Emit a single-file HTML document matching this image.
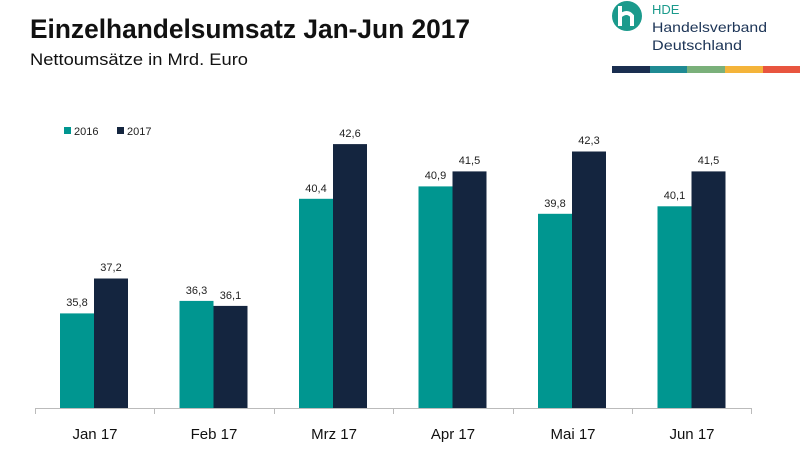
<!DOCTYPE html>
<html><head><meta charset="utf-8"><style>html,body{margin:0;padding:0;background:#fff}svg{display:block}</style></head>
<body>
<svg width="800" height="450" viewBox="0 0 800 450" xmlns="http://www.w3.org/2000/svg" font-family="Liberation Sans, sans-serif">
<rect width="800" height="450" fill="#fff"/>
<text x="30" y="38" font-size="27" font-weight="bold" fill="#111" textLength="440" lengthAdjust="spacingAndGlyphs">Einzelhandelsumsatz Jan-Jun 2017</text>
<text x="30" y="65" font-size="17" fill="#111" textLength="218" lengthAdjust="spacingAndGlyphs">Nettoumsätze in Mrd. Euro</text>
<circle cx="627" cy="16" r="15" fill="#1b9a8c"/>
<path d="M620 6 v20 M620 16 q7 -6 12 0 v10" stroke="#fff" stroke-width="4" fill="none"/>
<text x="652" y="14" font-size="13" fill="#1b9a8c">HDE</text>
<text x="652" y="32" font-size="14" fill="#1d3557" textLength="115" lengthAdjust="spacingAndGlyphs">Handelsverband</text>
<text x="652" y="50" font-size="14" fill="#1d3557" textLength="90" lengthAdjust="spacingAndGlyphs">Deutschland</text>
<rect x="612" y="66" width="38" height="7" fill="#1a2e50"/>
<rect x="650" y="66" width="37" height="7" fill="#1f8a93"/>
<rect x="687" y="66" width="38" height="7" fill="#7ab07a"/>
<rect x="725" y="66" width="38" height="7" fill="#f4b43a"/>
<rect x="763" y="66" width="37" height="7" fill="#e8553f"/>
<rect x="64" y="127" width="7" height="7" fill="#009690"/>
<text x="74" y="135" font-size="11" fill="#222">2016</text>
<rect x="117" y="127" width="7" height="7" fill="#14253f"/>
<text x="127" y="135" font-size="11" fill="#222">2017</text>
<g>
<rect x="60" y="313.4" width="34" height="94.6" fill="#009690"/>
<rect x="94" y="278.5" width="34" height="129.5" fill="#14253f"/>
<rect x="179.5" y="300.9" width="34" height="107.1" fill="#009690"/>
<rect x="213.5" y="305.9" width="34" height="102.1" fill="#14253f"/>
<rect x="299" y="198.8" width="34" height="209.2" fill="#009690"/>
<rect x="333" y="144.1" width="34" height="263.9" fill="#14253f"/>
<rect x="418.5" y="186.4" width="34" height="221.6" fill="#009690"/>
<rect x="452.5" y="171.4" width="34" height="236.6" fill="#14253f"/>
<rect x="538" y="213.8" width="34" height="194.2" fill="#009690"/>
<rect x="572" y="151.5" width="34" height="256.5" fill="#14253f"/>
<rect x="657.5" y="206.3" width="34" height="201.7" fill="#009690"/>
<rect x="691.5" y="171.4" width="34" height="236.6" fill="#14253f"/>
</g>
<g font-size="11" fill="#222" text-anchor="middle">
<text x="77" y="306">35,8</text>
<text x="111" y="271">37,2</text>
<text x="196.5" y="294">36,3</text>
<text x="230.5" y="299">36,1</text>
<text x="316" y="192">40,4</text>
<text x="350" y="137">42,6</text>
<text x="435.5" y="179">40,9</text>
<text x="469.5" y="164">41,5</text>
<text x="555" y="207">39,8</text>
<text x="589" y="144">42,3</text>
<text x="674.5" y="199">40,1</text>
<text x="708.5" y="164">41,5</text>
</g>
<line x1="35" y1="408.5" x2="752" y2="408.5" stroke="#bbb"/>
<g stroke="#bbb">
<line x1="35.5" y1="408" x2="35.5" y2="414"/><line x1="154.5" y1="408" x2="154.5" y2="414"/><line x1="274.5" y1="408" x2="274.5" y2="414"/><line x1="393.5" y1="408" x2="393.5" y2="414"/><line x1="513.5" y1="408" x2="513.5" y2="414"/><line x1="632.5" y1="408" x2="632.5" y2="414"/><line x1="751.5" y1="408" x2="751.5" y2="414"/>
</g>
<g font-size="15" fill="#111" text-anchor="middle">
<text x="95" y="439">Jan 17</text><text x="214" y="439">Feb 17</text><text x="334" y="439">Mrz 17</text><text x="453" y="439">Apr 17</text><text x="573" y="439">Mai 17</text><text x="692" y="439">Jun 17</text>
</g>
</svg>
</body></html>
